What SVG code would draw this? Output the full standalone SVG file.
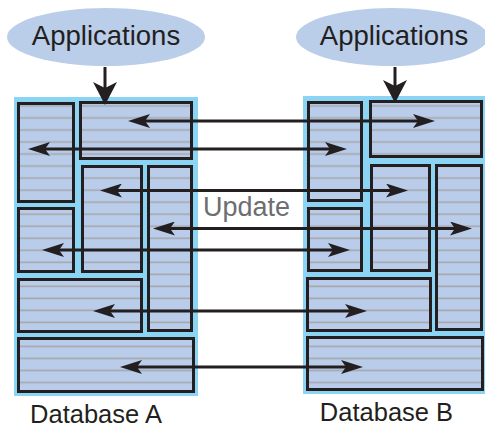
<svg xmlns="http://www.w3.org/2000/svg" width="485" height="429" viewBox="0 0 485 429">
<style>
.bg{fill:#8bd4f3}
.box{fill:url(#stripes);stroke:#231f20;stroke-width:3}
.app{fill:#bacde9}
.lbl{font-family:"Liberation Sans",Arial,sans-serif;fill:#231f20;text-anchor:middle}
.upd{font-family:"Liberation Sans",Arial,sans-serif;fill:#6d6e71;text-anchor:middle;font-size:27px}
.conn{stroke:#231f20;stroke-width:3;fill:none}
.h{marker-start:url(#ah);marker-end:url(#ah)}
.v{marker-end:url(#av)}
</style>
<defs>
<pattern id="stripes" patternUnits="userSpaceOnUse" x="0" y="100" width="485" height="12.03">
<rect width="485" height="12.03" fill="#b9cce9"/>
<line x1="0" y1="6" x2="485" y2="6" stroke="#a6a8ad" stroke-width="1.6"/>
</pattern>
<marker id="ah" markerUnits="userSpaceOnUse" viewBox="0 0 22 14" refX="5" refY="7" markerWidth="22" markerHeight="14" orient="auto-start-reverse">
<path d="M0,0 L22,7 L0,14 L5,7 Z" fill="#231f20"/>
</marker>
<marker id="av" markerUnits="userSpaceOnUse" viewBox="0 0 23 24" refX="6" refY="12" markerWidth="23" markerHeight="24" orient="auto">
<path d="M0,0 L23,12 L0,24 L6,12 Z" fill="#231f20"/>
</marker>
</defs>

<g id="appA">
<ellipse class="app" cx="106" cy="37" rx="99" ry="29"/>
<text class="lbl" x="106" y="45" font-size="27.5">Applications</text>
</g>
<g id="appB">
<ellipse class="app" cx="392" cy="37" rx="96" ry="29"/>
<text class="lbl" x="394" y="45" font-size="27.5">Applications</text>
</g>

<g id="dbA">
<rect class="bg" x="14" y="97" width="184" height="299"/>
<rect class="box" x="18.5" y="103.5" width="55" height="98"/>
<rect class="box" x="80.5" y="102.5" width="111" height="56"/>
<rect class="box" x="82.5" y="166.5" width="59" height="105"/>
<rect class="box" x="148.5" y="166.5" width="43" height="164"/>
<rect class="box" x="18.5" y="208.5" width="55" height="63"/>
<rect class="box" x="18.5" y="279.5" width="123" height="52"/>
<rect class="box" x="18.5" y="338.5" width="175" height="53"/>
<text class="lbl" x="96" y="423" font-size="25.5">Database A</text>
</g>

<g id="dbB">
<rect class="bg" x="303" y="96" width="182" height="298"/>
<rect class="box" x="308.5" y="102.5" width="53" height="98"/>
<rect class="box" x="370.5" y="101.5" width="111" height="55"/>
<rect class="box" x="371.5" y="165.5" width="58" height="105"/>
<rect class="box" x="436.5" y="165.5" width="45" height="164"/>
<rect class="box" x="308.5" y="208.5" width="53" height="62"/>
<rect class="box" x="307.5" y="278.5" width="123" height="52"/>
<rect class="box" x="307.5" y="337.5" width="175" height="52"/>
<text class="lbl" x="386.5" y="421" font-size="25.5">Database B</text>
</g>

<g id="update">
<text class="upd" x="246.5" y="216">Update</text>
</g>

<g id="connectors">
<line class="conn v" x1="105" y1="67" x2="105" y2="88"/>
<line class="conn v" x1="395" y1="67" x2="395" y2="86"/>
<line class="conn h" x1="145" y1="121" x2="418" y2="121"/>
<line class="conn h" x1="45" y1="149" x2="330" y2="149"/>
<line class="conn h" x1="117" y1="190.5" x2="391" y2="190.5"/>
<line class="conn h" x1="170" y1="228.5" x2="455" y2="228.5"/>
<line class="conn h" x1="59" y1="250" x2="333" y2="250"/>
<line class="conn h" x1="110" y1="311" x2="350" y2="311"/>
<line class="conn h" x1="137" y1="367" x2="346" y2="367"/>
</g>
</svg>
